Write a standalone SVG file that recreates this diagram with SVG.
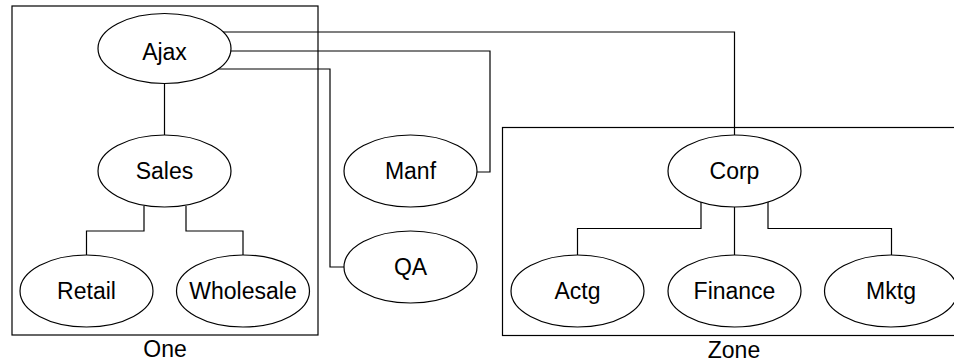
<svg xmlns="http://www.w3.org/2000/svg" width="954" height="362" viewBox="0 0 954 362">
<style>
.cl{fill:none;stroke:#000;stroke-width:1.2}
.nd ellipse{fill:#fff;stroke:#000;stroke-width:1.2}
.e{fill:none;stroke:#000;stroke-width:1.2}
text{font-family:"Liberation Sans",Arial,sans-serif;font-size:23px;fill:#000;text-anchor:middle}
</style>
<rect width="954" height="362" fill="#fff"/>
<g id="cluster-one">
<rect class="cl" x="12" y="6" width="306" height="329"/>
<text x="165" y="357">One</text>
</g>
<g id="cluster-zone">
<rect class="cl" x="502.5" y="127.5" width="460" height="208"/>
<text x="734" y="358">Zone</text>
</g>
<g id="connectors">
<path class="e" d="M164.5,83 V135"/>
<path class="e" d="M144,206 V231 H86.5 V255"/>
<path class="e" d="M186,206 V231 H243 V255"/>
<path class="e" d="M200,32 H734.5 V135"/>
<path class="e" d="M200,51 H490 V172 H470"/>
<path class="e" d="M200,69 H330 V267 H350"/>
<path class="e" d="M701,200 V228.5 H577.5 V260"/>
<path class="e" d="M734.5,200 V260"/>
<path class="e" d="M768,200 V228.5 H891.5 V260"/>
</g>
<g id="ajax" class="nd"><ellipse cx="164.5" cy="48.5" rx="66.5" ry="35"/><text x="164.5" y="60">Ajax</text></g>
<g id="sales" class="nd"><ellipse cx="164.5" cy="171" rx="66.5" ry="36"/><text x="164.5" y="179">Sales</text></g>
<g id="retail" class="nd"><ellipse cx="86.5" cy="291" rx="66.5" ry="36"/><text x="86.5" y="299">Retail</text></g>
<g id="wholesale" class="nd"><ellipse cx="243" cy="291" rx="66.5" ry="36"/><text x="243" y="299">Wholesale</text></g>
<g id="manf" class="nd"><ellipse cx="410.5" cy="171" rx="66.5" ry="36"/><text x="410.5" y="179">Manf</text></g>
<g id="qa" class="nd"><ellipse cx="410.5" cy="267" rx="66.5" ry="36"/><text x="410.5" y="275">QA</text></g>
<g id="corp" class="nd"><ellipse cx="734.5" cy="171" rx="66.5" ry="36"/><text x="734.5" y="179">Corp</text></g>
<g id="actg" class="nd"><ellipse cx="577.5" cy="291" rx="66.5" ry="36"/><text x="577.5" y="299">Actg</text></g>
<g id="finance" class="nd"><ellipse cx="734.5" cy="291" rx="66.5" ry="36"/><text x="734.5" y="299">Finance</text></g>
<g id="mktg" class="nd"><ellipse cx="891" cy="291" rx="66.5" ry="36"/><text x="891" y="299">Mktg</text></g>
</svg>
